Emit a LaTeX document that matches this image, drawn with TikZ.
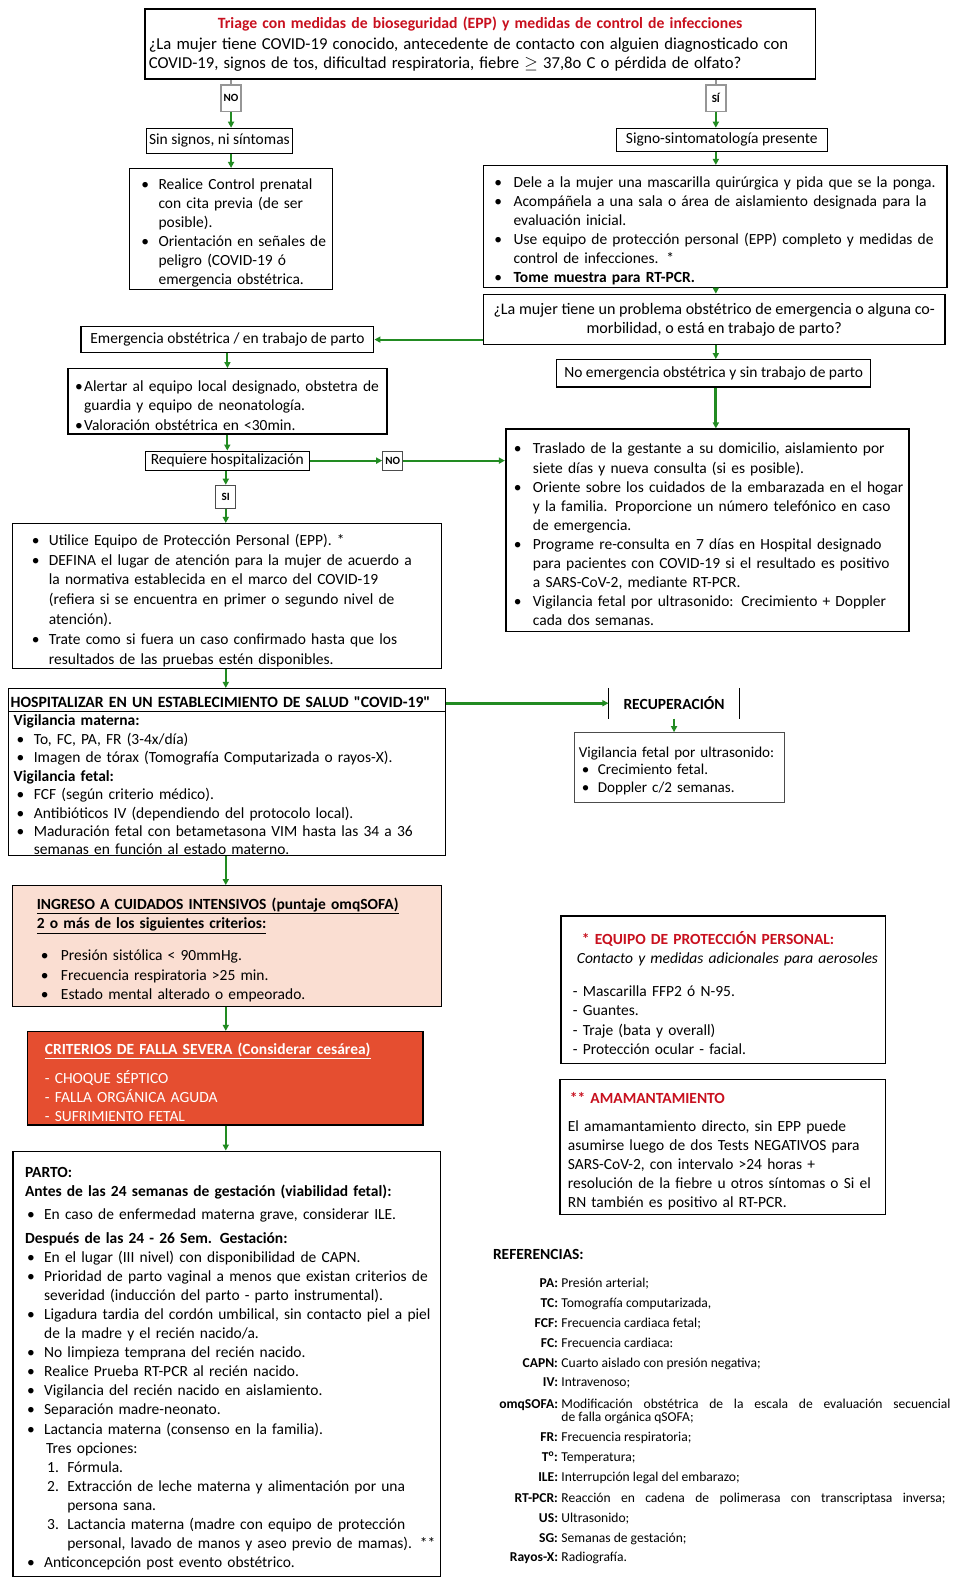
\documentclass[tikz,border=0pt]{standalone}
\usepackage{fontspec}
\setmainfont{Carlito}
\usetikzlibrary{positioning,arrows.meta}

\definecolor{flowgreen}{RGB}{34,139,34}
\definecolor{triagered}{RGB}{200,16,30}
\definecolor{icupink}{RGB}{250,222,210}
\definecolor{severered}{RGB}{229,78,48}
\definecolor{labelgray}{RGB}{150,150,150}

\newlength{\bulin}
\newlength{\txtin}
\newcommand{\boxfont}{\fontsize{15.4}{19}\selectfont}
\newcommand{\bul}{\par\hangindent=\txtin\hangafter=1\noindent\makebox[\txtin][l]{\hspace*{\bulin}\textbullet}}
\newcommand{\numitem}[1]{\par\hangindent=54pt\hangafter=1\noindent\makebox[54pt][l]{\hspace*{34pt}#1}}
\newcommand{\ind}[1]{\par\noindent\hspace*{#1pt}}

\begin{document}
\begin{tikzpicture}[x=1pt,y=-1pt,
  box/.style={draw, line width=1.3pt, anchor=north west, inner sep=0pt, align=left, font=\boxfont},
  cbox/.style={box, align=center},
  yesno/.style={draw=labelgray, line width=1.5pt, anchor=north west, inner sep=0pt, font=\fontsize{11}{12}\selectfont\bfseries},
  link/.style={draw=flowgreen, line width=2pt, -{Triangle[length=6pt,width=6pt]}},
  biglink/.style={link, line width=3pt},
  bul/.style 2 args={execute at begin node={\setlength{\bulin}{#1pt}\setlength{\txtin}{#2pt}}},
  abbr/.style={anchor=base east, inner sep=0pt, font=\fontsize{13.5}{15}\selectfont\bfseries},
  defn/.style={anchor=base west, inner sep=0pt, font=\fontsize{13.5}{15}\selectfont},
]
\path[use as bounding box, fill=white] (0,0) rectangle (949,1568);

% triage and first split
\node[box, line width=1.8pt, minimum width=667, minimum height=70, text width=659, inner xsep=4pt] (triage) at (143,8)
  {\makebox[659pt]{\fontsize{15.6}{19}\selectfont\color{triagered}\bfseries Triage con medidas de bioseguridad (EPP) y medidas de control de infecciones}\\[1pt]
   {\fontsize{16.6}{19.5}\selectfont ¿La mujer tiene COVID-19 conocido, antecedente de contacto con alguien diagnosticado con\\
   COVID-19, signos de tos, dificultad respiratoria, fiebre $\geq$ 37,8o C o pérdida de olfato?}};
\node[yesno, minimum width=20, minimum height=26] (notag) at (219,84) {NO};
\node[yesno, minimum width=20, minimum height=26] (sitag) at (701,84) {SÍ};

\node[cbox, minimum width=145, minimum height=25] (sinsig) at (145,127) {Sin signos, ni síntomas};
\node[cbox, minimum width=210, minimum height=23] (signo) at (612,127) {Signo-sintomatología presente};

\node[box, bul={12}{29}, minimum width=202, minimum height=120, text width=202] (realice) at (128,167)
  {\bul Realice Control prenatal\newline con cita previa (de ser\newline posible).
   \bul Orientación en señales de\newline peligro (COVID-19 ó\newline emergencia obstétrica.\par};

\node[box, bul={11}{30}, minimum width=461, minimum height=121, text width=461] (dele) at (480,164)
  {\bul Dele a la mujer una mascarilla quirúrgica y pida que se la ponga.
   \bul Acompáñela a una sala o área de aislamiento designada para la\newline evaluación inicial.
   \bul Use equipo de protección personal (EPP) completo y medidas de\newline control de infecciones. *
   \bul \textbf{Tome muestra para RT-PCR.}\par};

\node[cbox, font=\fontsize{16}{19}\selectfont, minimum width=459, minimum height=50] (preg2) at (480,292)
  {¿La mujer tiene un problema obstétrico de emergencia o alguna co-\\morbilidad, o está en trabajo de parto?};

\node[cbox, minimum width=291, minimum height=26] (emerg) at (80,324) {Emergencia obstétrica / en trabajo de parto};
\node[cbox, minimum width=312, minimum height=27] (noemerg) at (553,357) {No emergencia obstétrica y sin trabajo de parto};

\node[box, bul={7}{16}, minimum width=317, minimum height=65, text width=317] (alertar) at (67,366)
  {\bul Alertar al equipo local designado, obstetra de\newline guardia y equipo de neonatología.
   \bul Valoración obstétrica en <30min.\par};

\node[cbox, line width=1pt, minimum width=163, minimum height=19] (requiere) at (144,448) {Requiere hospitalización};
\node[yesno, draw=black!70, line width=1pt, minimum width=20, minimum height=19] (nohosp) at (380,448) {NO};
\node[yesno, draw=black!70, line width=1pt, minimum width=20, minimum height=23] (sihosp) at (214,482) {SI};

\node[box, line width=1.8pt, bul={8}{27}, minimum width=401, minimum height=201, text width=401] (traslado) at (502,426)
  {\bul Traslado de la gestante a su domicilio, aislamiento por\newline siete días y nueva consulta (si es posible).
   \bul Oriente sobre los cuidados de la embarazada en el hogar\newline y la familia. Proporcione un número telefónico en caso\newline de emergencia.
   \bul Programe re-consulta en 7 días en Hospital designado\newline para pacientes con COVID-19 si el resultado es positivo\newline a SARS-CoV-2, mediante RT-PCR.
   \bul Vigilancia fetal por ultrasonido: Crecimiento + Doppler\newline cada dos semanas.\par};

\node[box, bul={19}{36}, font=\fontsize{15.4}{19.7}\selectfont, minimum width=426, minimum height=144, text width=426] (utilice) at (12,520)
  {\bul Utilice Equipo de Protección Personal (EPP). *
   \bul DEFINA el lugar de atención para la mujer de acuerdo a\newline la normativa establecida en el marco del COVID-19\newline (refiera si se encuentra en primer o segundo nivel de\newline atención).
   \bul Trate como si fuera un caso confirmado hasta que los\newline resultados de las pruebas estén disponibles.\par};

% hospital branch
\node[box, bul={8}{25}, font=\fontsize{15.4}{18.3}\selectfont, minimum width=434, minimum height=166, text width=434] (hosp) at (8,684)
  {\ind{2}{\fontsize{15.6}{18.3}\selectfont\bfseries HOSPITALIZAR EN UN ESTABLECIMIENTO DE SALUD \textquotedbl COVID-19\textquotedbl}
   \ind{5}\textbf{Vigilancia materna:}
   \bul To, FC, PA, FR (3-4x/día)
   \bul Imagen de tórax (Tomografía Computarizada o rayos-X).
   \ind{5}\textbf{Vigilancia fetal:}
   \bul FCF (según criterio médico).
   \bul Antibióticos IV (dependiendo del protocolo local).
   \bul Maduración fetal con betametasona VIM hasta las 34 a 36\newline semanas en función al estado materno.\par};
\draw[line width=1pt] ([yshift=-23pt]hosp.north west) -- ([yshift=-23pt]hosp.north east);

\node[anchor=north west, inner sep=0pt, font=\boxfont\bfseries, minimum width=130, minimum height=30] (recup) at (605,684) {RECUPERACIÓN};
\draw[line width=1pt] (recup.north west) -- (recup.south west);
\draw[line width=1pt] (recup.north east) -- (recup.south east);

\node[box, draw=black!70, line width=1pt, bul={7}{23}, font=\fontsize{15}{17.5}\selectfont, minimum width=209, minimum height=69, text width=209] (vigil) at (571,728)
  {\ind{4}Vigilancia fetal por ultrasonido:
   \bul Crecimiento fetal.
   \bul Doppler c/2 semanas.\par};

\node[box, fill=icupink, bul={28}{48}, minimum width=426, minimum height=120, text width=426] (ingreso) at (12,880)
  {\ind{24}\underline{\textbf{INGRESO A CUIDADOS INTENSIVOS (puntaje omqSOFA)}}
   \ind{24}\underline{\textbf{2 o más de los siguientes criterios:}}
   \par\vspace{13pt}
   \bul Presión sistólica < 90mmHg.
   \bul Frecuencia respiratoria >25 min.
   \bul Estado mental alterado o empeorado.\par};

\node[box, fill=severered, text=white, minimum width=393, minimum height=93, text width=393] (criterios) at (27,1025)
  {\ind{17}\underline{\textbf{CRITERIOS DE FALLA SEVERA (Considerar cesárea)}}
   \par\vspace{10pt}
   \ind{17}- CHOQUE SÉPTICO
   \ind{17}- FALLA ORGÁNICA AGUDA
   \ind{17}- SUFRIMIENTO FETAL\par};

\node[box, line width=1.8pt, bul={14}{31}, inner ysep=7pt, minimum width=425, text width=425] (parto) at (12,1144)
  {\ind{12}\textbf{PARTO:}
   \ind{12}\textbf{Antes de las 24 semanas de gestación (viabilidad fetal):}
   \par\vspace{4pt}
   \bul En caso de enfermedad materna grave, considerar ILE.
   \par\vspace{4pt}
   \ind{12}\textbf{Después de las 24 - 26 Sem. Gestación:}
   \bul En el lugar (III nivel) con disponibilidad de CAPN.
   \bul Prioridad de parto vaginal a menos que existan criterios de\newline severidad (inducción del parto - parto instrumental).
   \bul Ligadura tardia del cordón umbilical, sin contacto piel a piel\newline de la madre y el recién nacido/a.
   \bul No limpieza temprana del recién nacido.
   \bul Realice Prueba RT-PCR al recién nacido.
   \bul Vigilancia del recién nacido en aislamiento.
   \bul Separación madre-neonato.
   \bul Lactancia materna (consenso en la familia).
   \ind{33}Tres opciones:
   \numitem{1.}Fórmula.
   \numitem{2.}Extracción de leche materna y alimentación por una\newline persona sana.
   \numitem{3.}Lactancia materna (madre con equipo de protección\newline personal, lavado de manos y aseo previo de mamas). **
   \bul Anticoncepción post evento obstétrico.
   \par\vspace*{40pt}};

% side notes
\node[box, minimum width=323, minimum height=147, text width=323] (epp) at (557,910)
  {\ind{21}{\color{triagered}\bfseries * EQUIPO DE PROTECCIÓN PERSONAL:}
   \ind{16}\makebox[311pt][s]{\itshape Contacto y medidas adicionales para aerosoles}
   \par\vspace{14pt}
   \ind{12}- Mascarilla FFP2 ó N-95.
   \ind{12}- Guantes.
   \ind{12}- Traje (bata y overall)
   \ind{12}- Protección ocular - facial.\par};

\node[box, minimum width=324, minimum height=134, text width=324] (amam) at (556,1073)
  {\ind{10}{\color{triagered}\bfseries ** AMAMANTAMIENTO}
   \par\vspace{9pt}
   \ind{8}El amamantamiento directo, sin EPP puede
   \ind{8}asumirse luego de dos Tests NEGATIVOS para
   \ind{8}SARS-CoV-2, con intervalo >24 horas +
   \ind{8}resolución de la fiebre u otros síntomas o Si el
   \ind{8}RN también es positivo al RT-PCR.\par};

\node[anchor=base west, inner sep=0pt, font=\boxfont\bfseries] (refs) at (490,1252) {REFERENCIAS:};
\foreach \yy/\ab/\df [count=\i] in {1280/PA/{Presión arterial;}, 1300/TC/{Tomografía computarizada,},
    1320/FCF/{Frecuencia cardiaca fetal;}, 1340/FC/{Frecuencia cardiaca:},
    1360/CAPN/{Cuarto aislado con presión negativa;}, 1379/IV/{Intravenoso;},
    1433/FR/{Frecuencia respiratoria;}, 1453/T\textsuperscript{o}/{Temperatura;},
    1473/ILE/{Interrupción legal del embarazo;}, 1514/US/{Ultrasonido;},
    1534/SG/{Semanas de gestación;}, 1553/Rayos-X/{Radiografía.}}
  {\node[abbr] (ab\i) at (555,\yy) {\ab:};
   \node[defn] (df\i) at (558,\yy) {\df};}
\node[abbr] (absofa) at (555,1400) {omqSOFA:};
\node[defn] (dfsofa) at (558,1400) {\makebox[387pt][s]{Modificación obstétrica de la escala de evaluación secuencial}};
\node[defn] (dfsofb) at (558,1413) {de falla orgánica qSOFA;};
\node[abbr] (abrt) at (555,1494) {RT-PCR:};
\node[defn] (dfrt) at (558,1494) {\makebox[382pt][s]{Reacción en cadena de polimerasa con transcriptasa inversa;}};

% connectors
\draw[labelgray, line width=1.5pt] (triage.south -| notag) -- (notag.north);
\draw[labelgray, line width=1.5pt] (triage.south -| sitag) -- (sitag.north);
\draw[link] (notag) -- (sinsig.north -| notag);
\draw[link] (sitag) -- (signo.north -| sitag);
\draw[link] (sinsig.south -| notag) -- (realice.north -| notag);
\draw[link] (signo.south -| sitag) -- (dele.north -| sitag);
\draw[link] (dele.south -| sitag) -- (preg2.north -| sitag);
\draw[link] (preg2.west |- emerg.east) -- (emerg.east);
\draw[link] (preg2.south -| sitag) -- (noemerg.north -| sitag);
\draw[biglink] (noemerg.south -| sitag) -- (traslado.north -| sitag);
\draw[link] (emerg) -- (alertar.north -| emerg);
\draw[link] (alertar.south -| requiere) -- (requiere);
\draw[link] (requiere) -- (nohosp);
\draw[link] (nohosp) -- (nohosp.east -| traslado.west);
\draw[link] (requiere.south -| sihosp) -- (sihosp);
\draw[link] (sihosp) -- (utilice.north -| sihosp);
\draw[link] (utilice.south -| sihosp) -- (hosp.north -| sihosp);
\draw[biglink] (hosp.east |- recup.west) -- (recup.west);
\draw[link] (recup) -- (vigil.north -| recup);
\draw[link] (hosp.south -| sihosp) -- (ingreso.north -| sihosp);
\draw[link] (ingreso.south -| sihosp) -- (criterios.north -| sihosp);
\draw[link] (criterios.south -| sihosp) -- (parto.north -| sihosp);
\end{tikzpicture}
\end{document}
